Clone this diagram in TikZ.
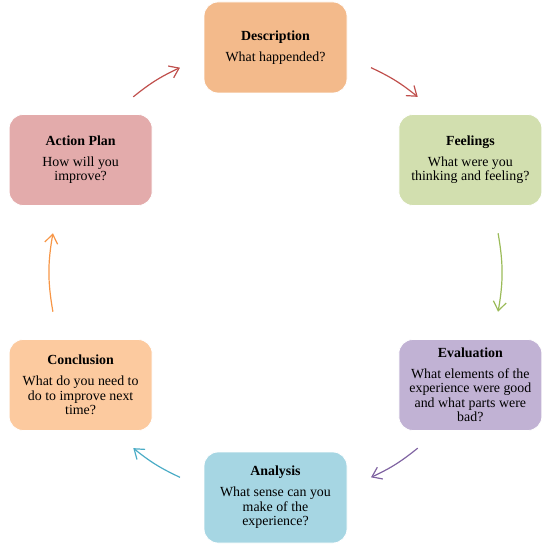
\documentclass[tikz,border=0pt]{standalone}
\usepackage{fontspec}
\setmainfont{Liberation Serif}
\usepackage{tikz}
\usetikzlibrary{arrows.meta}
\usepackage{xcolor}
\definecolor{descfill}{RGB}{243,186,139}
\definecolor{feelfill}{RGB}{210,223,175}
\definecolor{evalfill}{RGB}{193,178,212}
\definecolor{analfill}{RGB}{166,214,227}
\definecolor{concfill}{RGB}{252,202,159}
\definecolor{planfill}{RGB}{227,171,171}
\definecolor{arrred}{RGB}{192,80,77}
\definecolor{arrgreen}{RGB}{155,187,89}
\definecolor{arrpurple}{RGB}{128,100,162}
\definecolor{arrblue}{RGB}{75,172,198}
\definecolor{arrorange}{RGB}{247,150,70}

\begin{document}
\begin{tikzpicture}[x=1pt, y=1pt,
    box/.style={rounded corners=14pt, draw=white, line width=0.8pt,
        minimum width=143pt, minimum height=91pt, align=center,
        inner sep=2pt, font=\fontsize{13.9}{14.4}\selectfont},
    flow/.style={line width=1.2pt, -{Straight Barb[length=9pt, width=13pt]}}]

    % Fix the page to the reference margins
    \useasboundingbox (-275.5,-275.5) rectangle (272.5,272.5);

    % The six stages sit on a circle of radius 225
    \node[box, fill=descfill] (Desc) at (90:225)
        {\textbf{Description}\\[6.5pt]What happended?};
    \node[box, fill=feelfill] (Feel) at (30:225)
        {\textbf{Feelings}\\[6.5pt]What were you\\thinking and feeling?};
    \node[box, fill=evalfill] (Eval) at (-30:225)
        {\textbf{Evaluation}\\[6.5pt]What elements of the\\experience were good\\and what parts were\\bad?};
    \node[box, fill=analfill] (Anal) at (-90:225)
        {\textbf{Analysis}\\[6.5pt]What sense can you\\make of the\\experience?};
    \node[box, fill=concfill] (Conc) at (210:225)
        {\textbf{Conclusion}\\[6.5pt]What do you need to\\do to improve next\\time?};
    \node[box, fill=planfill] (Plan) at (150:225)
        {\textbf{Action Plan}\\[6.5pt]How will you\\improve?};

    % End points of the arrows, on a slightly larger circle
    \coordinate (Plan_out) at (129:226);
    \coordinate (Desc_in) at (115:226);
    \coordinate (Desc_out) at (65:226);
    \coordinate (Feel_in) at (51:226);
    \coordinate (Feel_out) at (10:226);
    \coordinate (Eval_in) at (-10:226);
    \coordinate (Eval_out) at (-51:226);
    \coordinate (Anal_in) at (-65:226);
    \coordinate (Anal_out) at (-115:226);
    \coordinate (Conc_in) at (-129:226);
    \coordinate (Conc_out) at (190:226);
    \coordinate (Plan_in) at (170:226);

    % Draw the arrows of the cycle (clockwise)
    \draw[flow, arrred] (Plan_out) to[bend left=7] (Desc_in);
    \draw[flow, arrred] (Desc_out) to[bend left=7] (Feel_in);
    \draw[flow, arrgreen] (Feel_out) to[bend left=10] (Eval_in);
    \draw[flow, arrpurple] (Eval_out) to[bend left=7] (Anal_in);
    \draw[flow, arrblue] (Anal_out) to[bend left=7] (Conc_in);
    \draw[flow, arrorange] (Conc_out) to[bend left=10] (Plan_in);
\end{tikzpicture}
\end{document}
